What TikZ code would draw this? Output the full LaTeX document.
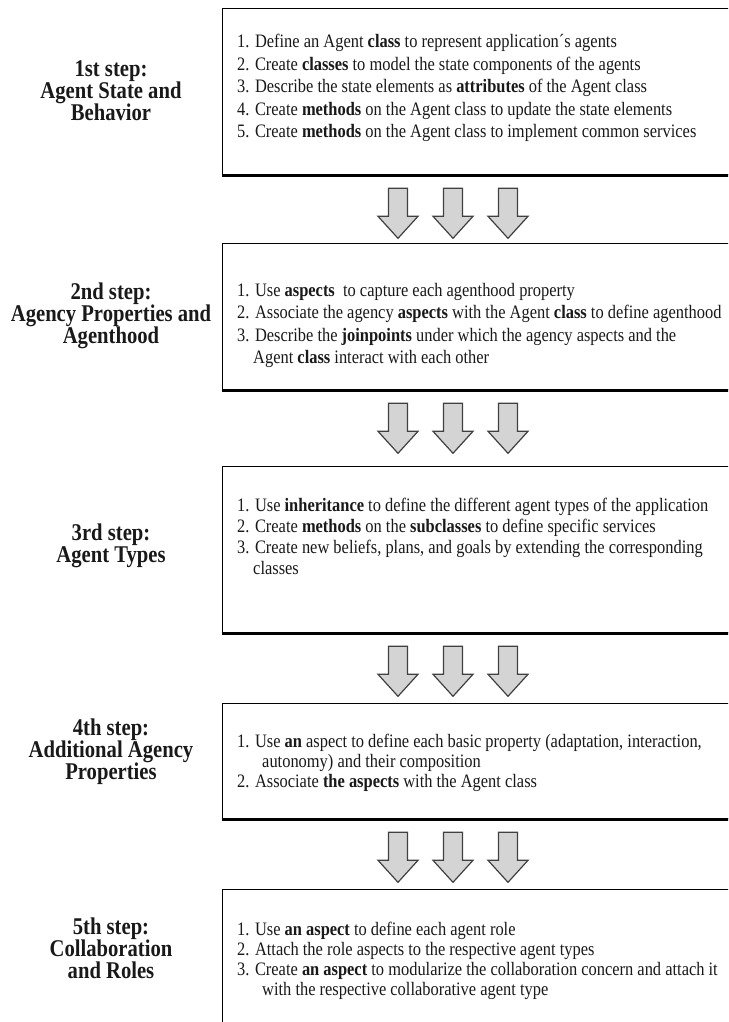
\documentclass[tikz,border=0pt]{standalone}
\usepackage{fontspec}
\usetikzlibrary{calc}
\newfontfamily\itemfont[FakeStretch=0.865]{Liberation Serif}
\newfontfamily\labelfont[FakeStretch=0.86]{Liberation Serif}
% three block arrows hanging below a box
\newcommand\blockarrows[1]{%
  \foreach \cx in {398,453,508}{%
    \path[blockarrow] let \p1=(#1.south) in
      (\cx pt-9.5pt,\y1-13pt) -- (\cx pt+9.5pt,\y1-13pt) --
      (\cx pt+9.5pt,\y1-41pt) -- (\cx pt+20pt,\y1-41pt) --
      (\cx pt,\y1-63pt) -- (\cx pt-20pt,\y1-41pt) --
      (\cx pt-9.5pt,\y1-41pt) -- cycle;
  }}
\begin{document}
\begin{tikzpicture}[x=1pt,y=-1pt,
  stepbox/.style={draw=black,line width=1.3pt,fill=white,inner sep=0pt,anchor=north west,minimum width=540pt},
  shadowline/.style={line width=3pt,black},
  item/.style={font=\itemfont\fontsize{19}{22}\selectfont,inner sep=0pt,anchor=base west,text=black!90},
  steplabel/.style={font=\labelfont\bfseries\fontsize{24}{22}\selectfont,align=center,inner sep=0pt,text=black!90},
  blockarrow/.style={draw=black!75,fill=black!17,line width=1.2pt,line join=miter}]
\useasboundingbox (0,0) rectangle (728,1022);
\clip (0,0) rectangle (728,1022);

% step boxes
\node[stepbox,minimum height=166pt] (b1) at (222,8) {};
\node[stepbox,minimum height=146pt] (b2) at (222,243) {};
\node[stepbox,minimum height=166pt] (b3) at (222,466) {};
\node[stepbox,minimum height=115pt] (b4) at (222,703) {};
\node[stepbox,minimum height=160pt] (b5) at (222,889) {};
\foreach \b in {b1,b2,b3,b4}
  \draw[shadowline] (\b.south west) -- (\b.south east);

% arrows from each box down to the next one
\blockarrows{b1}
\blockarrows{b2}
\blockarrows{b3}
\blockarrows{b4}

% step labels
\node[steplabel] (l1) at (111,91) {1st step:\\Agent State and\\Behavior};
\node[steplabel] (l2) at (111,316) {2nd step:\\Agency Properties and\\Agenthood};
\node[steplabel] (l3) at (111,546) {3rd step:\\Agent Types};
\node[steplabel] (l4) at (111,752) {4th step:\\Additional Agency\\Properties};
\node[steplabel] (l5) at (111,948) {5th step:\\Collaboration\\and Roles};

% step 1 items
\node[item] (i11) at (237,48) {1. Define an Agent \textbf{class} to represent application´s agents};
\node[item] (i12) at (237,70.5) {2. Create \textbf{classes} to model the state components of the agents};
\node[item] (i13) at (237,93) {3. Describe the state elements as \textbf{attributes} of the Agent class};
\node[item] (i14) at (237,115.5) {4. Create \textbf{methods} on the Agent class to update the state elements};
\node[item] (i15) at (237,138) {5. Create \textbf{methods} on the Agent class to implement common services};

% step 2 items
\node[item] (i21) at (237,296) {1. Use \textbf{aspects}\ \ to capture each agenthood property};
\node[item] (i22) at (237,318) {2. Associate the agency \textbf{aspects} with the Agent \textbf{class} to define agenthood};
\node[item] (i23) at (237,341) {3. Describe the \textbf{joinpoints} under which the agency aspects and the};
\node[item] (i24) at (253,363) {Agent \textbf{class} interact with each other};

% step 3 items
\node[item] (i31) at (237,511) {1. Use \textbf{inheritance} to define the different agent types of the application};
\node[item] (i32) at (237,532) {2. Create \textbf{methods} on the \textbf{subclasses} to define specific services};
\node[item] (i33) at (237,553) {3. Create new beliefs, plans, and goals by extending the corresponding};
\node[item] (i34) at (253,574) {classes};

% step 4 items
\node[item] (i41) at (237,747) {1. Use \textbf{an} aspect to define each basic property (adaptation, interaction,};
\node[item] (i42) at (262,767) {autonomy) and their composition};
\node[item] (i43) at (237,787) {2. Associate \textbf{the aspects} with the Agent class};

% step 5 items
\node[item] (i51) at (237,935) {1. Use \textbf{an aspect} to define each agent role};
\node[item] (i52) at (237,955) {2. Attach the role aspects to the respective agent types};
\node[item] (i53) at (237,975) {3. Create \textbf{an aspect} to modularize the collaboration concern and attach it};
\node[item] (i54) at (262,995) {with the respective collaborative agent type};
\end{tikzpicture}
\end{document}
